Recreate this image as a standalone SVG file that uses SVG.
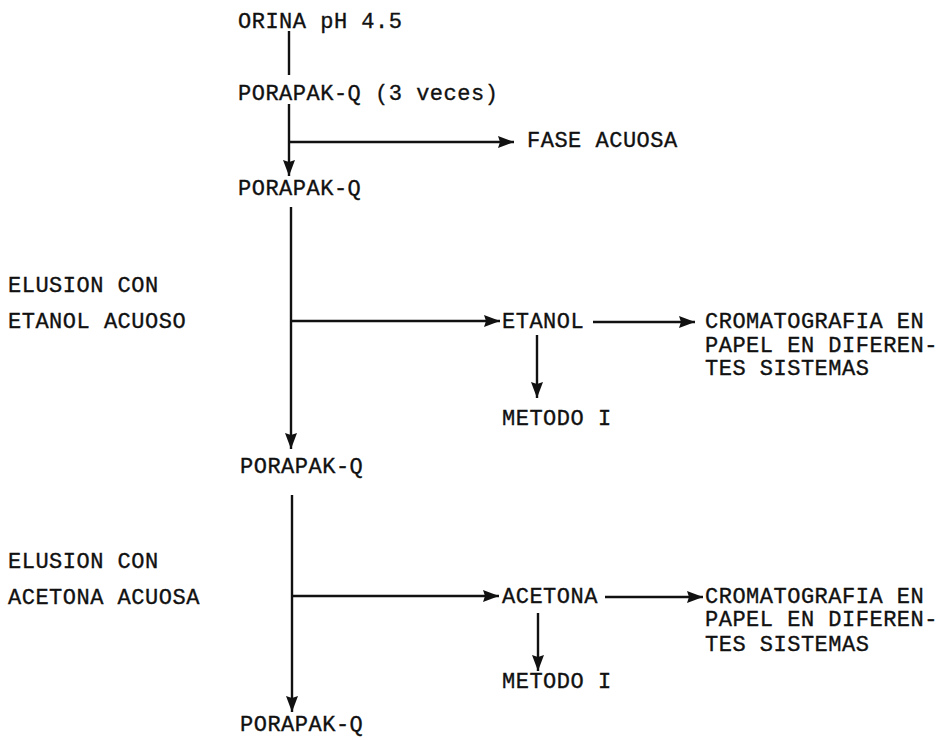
<svg xmlns="http://www.w3.org/2000/svg" width="951" height="740" viewBox="0 0 951 740">
<style>
text{font-family:"Liberation Mono","Courier New",monospace;font-size:22px;letter-spacing:0.5px;fill:#111;stroke:#111;stroke-width:0.35}
.c line{stroke:#111;stroke-width:2.4;fill:none}
.c .a{marker-end:url(#ah)}
</style>
<defs>
<marker id="ah" markerUnits="userSpaceOnUse" markerWidth="17" markerHeight="13" refX="16" refY="6.5" orient="auto">
<path d="M0,0.5 L16,6.5 L0,12.5 L2,6.5 z" fill="#111"/>
</marker>
</defs>
<rect width="951" height="740" fill="#fff"/>
<g id="n-orina"><text x="238" y="28">ORINA pH 4.5</text></g>
<g id="n-porapak1"><text x="238" y="100">PORAPAK-Q (3 veces)</text></g>
<g id="n-fase"><text x="527" y="147">FASE ACUOSA</text></g>
<g id="n-porapak2"><text x="238" y="195">PORAPAK-Q</text></g>
<g id="n-elusion1"><text x="8" y="292">ELUSION CON</text><text x="8" y="328">ETANOL ACUOSO</text></g>
<g id="n-etanol"><text x="502" y="328">ETANOL</text></g>
<g id="n-crom1"><text x="705" y="328">CROMATOGRAFIA EN</text><text x="705" y="352">PAPEL EN DIFEREN-</text><text x="705" y="375">TES SISTEMAS</text></g>
<g id="n-metodo1"><text x="502" y="425">METODO I</text></g>
<g id="n-porapak3"><text x="240" y="473">PORAPAK-Q</text></g>
<g id="n-elusion2"><text x="8" y="568">ELUSION CON</text><text x="8" y="604">ACETONA ACUOSA</text></g>
<g id="n-acetona"><text x="502" y="603">ACETONA</text></g>
<g id="n-crom2"><text x="705" y="603">CROMATOGRAFIA EN</text><text x="705" y="626">PAPEL EN DIFEREN-</text><text x="705" y="651">TES SISTEMAS</text></g>
<g id="n-metodo2"><text x="502" y="688">METODO I</text></g>
<g id="n-porapak4"><text x="240" y="731">PORAPAK-Q</text></g>
<g id="connectors" class="c">
<line x1="289" y1="31" x2="289" y2="75"/>
<line class="a" x1="289" y1="104" x2="289" y2="176"/>
<line class="a" x1="289" y1="142" x2="514" y2="142"/>
<line class="a" x1="291" y1="207" x2="291" y2="449"/>
<line class="a" x1="291" y1="321" x2="500" y2="321"/>
<line class="a" x1="593" y1="322" x2="695" y2="322"/>
<line class="a" x1="537" y1="335" x2="537" y2="398"/>
<line class="a" x1="292" y1="495" x2="292" y2="712"/>
<line class="a" x1="292" y1="596" x2="499" y2="596"/>
<line class="a" x1="605" y1="597" x2="703" y2="597"/>
<line class="a" x1="538" y1="613" x2="538" y2="671"/>
</g>
</svg>
